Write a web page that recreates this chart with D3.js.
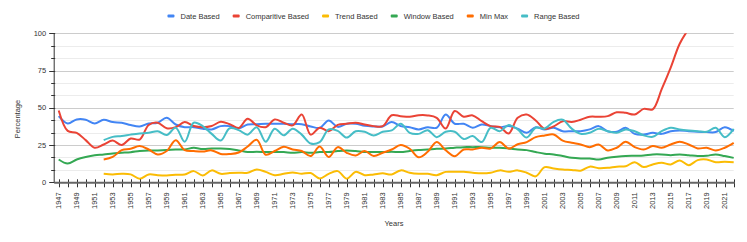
<!DOCTYPE html>
<html>
<head>
<meta charset="utf-8">
<script src="https://cdn.jsdelivr.net/npm/d3@7"></script>
<style>
  html, body { margin: 0; padding: 0; background: #fff; }
  svg { display: block; font-family: Arial, "Liberation Sans", sans-serif; }
</style>
</head>
<body>
<script>
// years on the x axis
const years = [1947, 1948, 1949, 1950, 1951, 1952, 1953, 1954, 1955, 1956, 1957, 1958, 1959,
  1960, 1961, 1962, 1963, 1964, 1965, 1966, 1967, 1968, 1969, 1970, 1971, 1972, 1973, 1974,
  1975, 1976, 1977, 1978, 1979, 1980, 1981, 1982, 1983, 1984, 1985, 1986, 1987, 1988, 1989,
  1990, 1991, 1992, 1993, 1994, 1995, 1996, 1997, 1998, 1999, 2000, 2001, 2002, 2003, 2004,
  2005, 2006, 2007, 2008, 2009, 2010, 2011, 2012, 2013, 2014, 2015, 2016, 2017, 2018, 2019,
  2020, 2021, 2022];

// one value per year, null = no data
const dateBased = [44.4, 39.5, 42.2, 42, 39.5, 42, 40.4, 40, 38.4, 37.5, 39.5, 40, 43.3,
  38.8, 37, 37, 36, 35.5, 37.7, 37.7, 36.3, 38.8, 39, 39.3, 39.3, 39.3, 39, 39,
  37.5, 36.5, 41.5, 37.2, 39.3, 39.3, 37.9, 37.5, 37.5, 40.4, 37.7, 37, 35.5, 37, 36.6,
  45.5, 39.3, 39.3, 36.6, 38.8, 37.7, 37, 37.7, 36, 33.2, 37, 35.5, 36.6, 34.3, 34.3,
  34.3, 35.5, 37.7, 34.3, 33.9, 36.6, 32.5, 32, 33.2, 32.5, 34.3, 34.8, 34.3, 33.9, 33.7,
  33.7, 37, 34.3];

const comparitiveBased = [48.2, 34.5, 33.2, 28.3, 23.2, 25.4, 28, 25, 29.4, 28.7, 38.5, 40, 36.3,
  37, 40.4, 37.8, 37, 37.8, 40.6, 39, 36.5, 42.7, 38.2, 37, 42.2, 40, 38.2, 45.5,
  32, 36.6, 34.3, 38.5, 39.3, 40, 38.8, 37.7, 37.7, 45, 44.4, 44, 45, 44.9, 43.3,
  36.1, 47.8, 44, 44.9, 41, 37.7, 37.2, 32.8, 43.3, 45.5, 41.5, 35.8, 37.5, 41, 40.5,
  42, 44, 44, 44.4, 47, 46.6, 45.5, 49.3, 49, 62.5, 77, 93, 103, null, null,
  null, null, null];

const trendBased = [null, null, null, null, null, 5.7, 5.3, 5.7, 5.3, 2.4, 5.3, 4.8, 4.6,
  5, 5.3, 7.5, 4.6, 8, 5.7, 6.2, 6.4, 6.4, 8.6, 7, 4.8, 5.7, 6.6, 5.7,
  6.2, 2.6, 5.7, 7.5, 2.4, 7, 4.8, 5.3, 6, 5.3, 8, 6.4, 5.7, 5.7, 4.8,
  7, 7, 7, 6.4, 6, 6.4, 8, 7, 8, 6.4, 4, 10.2, 9.3, 8.6, 8.3,
  7.8, 10.5, 9.5, 9.7, 10.5, 10.8, 13.5, 10.2, 12, 13.1, 12, 14.7, 11.5, 14.9, 15.3,
  13.5, 13.8, 13.5];

const windowBased = [15.3, 12.6, 15.3, 17, 18.2, 18.7, 19.4, 19.8, 20.2, 21, 21.4, 21.4, 21.6,
  22, 22, 23.2, 22.3, 22.7, 22.7, 22.3, 21.4, 20.3, 20.5, 20.3, 20.3, 20.3, 19.8, 20.3,
  19.8, 20.3, 20.3, 21, 21.4, 21, 20.3, 20.3, 20.3, 20.5, 20.3, 21, 21.6, 22, 22.5,
  22.7, 23.2, 23.6, 23.6, 23.6, 23.2, 23.2, 22.7, 22, 21.6, 20.3, 19.2, 18.7, 17.6, 16.4,
  16, 16, 15.3, 16.4, 17.1, 17.6, 17.8, 18, 18.7, 18.7, 18.2, 18.7, 18.2, 17.6, 17.8,
  18.7, 17.6, 16.4];

const minMax = [null, null, null, null, null, 15.3, 17, 21.6, 22.5, 24.3, 22, 18.7, 21,
  28.3, 21.6, 21, 20.7, 21.4, 19, 19, 20, 24, 28.5, 18.5, 21, 23.8, 22, 21,
  17.6, 24, 17, 23.6, 19.8, 18, 21, 17.6, 19.8, 22, 25, 22.5, 16.8, 20.5, 27,
  21.5, 17.5, 22, 22, 23.2, 22.7, 27, 22.7, 25.5, 27, 30.3, 31.4, 32.1, 28, 26.5,
  25.4, 23.6, 25.4, 21.4, 23.2, 27.2, 23.6, 22, 24.3, 23.2, 25.4, 27.2, 25.4, 22.7, 23.2,
  21.4, 23.2, 26.5];

const rangeBased = [null, null, null, null, null, 28.3, 30.5, 31, 32, 32.8, 33.2, 34.3, 31.7,
  36.6, 27.2, 40, 37.7, 32.5, 28, 36.3, 35, 32, 37, 27.2, 36, 31.5, 36, 32,
  26, 27, 35.5, 34.5, 30, 34.3, 33.9, 31.4, 33.9, 34.8, 39.3, 33.2, 32.5, 35, 30.3,
  33.9, 33.9, 29, 31, 27, 36.6, 34.3, 38.4, 35.5, 30, 36.6, 36.1, 40.6, 42, 36,
  32.5, 33.2, 35.9, 34.3, 33.2, 35.5, 34.3, 31.5, 30.5, 34.3, 36.6, 35.5, 34.8, 34.3, 33.9,
  36.6, 30.3, 35.9];

const seriesNames = ["Date Based", "Comparitive Based", "Trend Based", "Window Based", "Min Max", "Range Based"];
const seriesValues = [dateBased, comparitiveBased, trendBased, windowBased, minMax, rangeBased];
const seriesColors = ["#4285F4", "#EA4335", "#FBBC04", "#34A853", "#FF6D01", "#46BDC6"];

const yMajorTicks = [0, 25, 50, 75, 100];

const width = 747;
const height = 242;
const plot = { left: 54.2, right: 733.7, top: 33.3, bottom: 182.3 };
const fontSize = 7.5;

const svg = d3.select("body").append("svg")
    .attr("width", width)
    .attr("height", height);

// x: a year every 9px, half a step of room before the first one
const x = d3.scaleLinear()
    .domain([years[0] - 0.5, years[years.length - 1]])
    .range([plot.left, plot.right]);

const y = d3.scaleLinear()
    .domain([0, 100])
    .range([plot.bottom, plot.top]);

// minor lines split each 25 step in three
const minorTicks = d3.range(0, 100, 25 / 3).filter(v => !yMajorTicks.includes(Math.round(v)));

// gridlines
svg.append("g")
  .selectAll("line")
  .data(minorTicks)
  .join("line")
    .attr("x1", plot.left).attr("x2", plot.right)
    .attr("y1", d => Math.round(y(d)) + 0.5).attr("y2", d => Math.round(y(d)) + 0.5)
    .attr("stroke", "#ececec");

svg.append("g")
  .selectAll("line")
  .data(yMajorTicks.filter(d => d > 0))
  .join("line")
    .attr("x1", plot.left).attr("x2", plot.right)
    .attr("y1", d => Math.round(y(d)) + 0.5).attr("y2", d => Math.round(y(d)) + 0.5)
    .attr("stroke", "#cccccc");

// clip so the comparitive line stops at 100
svg.append("defs").append("clipPath")
    .attr("id", "plot-clip")
  .append("rect")
    .attr("x", plot.left)
    .attr("y", plot.top)
    .attr("width", plot.right - plot.left + 2)
    .attr("height", plot.bottom - plot.top + 2);

const line = d3.line()
    .defined(d => d.v != null)
    .x(d => x(d.year))
    .y(d => y(d.v))
    .curve(d3.curveCatmullRom.alpha(0.5));

svg.append("g")
    .attr("clip-path", "url(#plot-clip)")
  .selectAll("path")
  .data(seriesValues)
  .join("path")
    .attr("d", vals => line(years.map((yr, i) => ({ year: yr, v: vals[i] }))))
    .attr("fill", "none")
    .attr("stroke", (d, i) => seriesColors[i])
    .attr("stroke-width", 2)
    .attr("stroke-linejoin", "round");

// y axis
const yAxis = svg.append("g");
yAxis.append("line")
    .attr("x1", plot.left).attr("x2", plot.left)
    .attr("y1", plot.top).attr("y2", plot.bottom)
    .attr("stroke", "#333");
yAxis.selectAll(".minor")
  .data(minorTicks)
  .join("line")
    .attr("class", "minor")
    .attr("x1", plot.left - 3).attr("x2", plot.left + 1)
    .attr("y1", d => Math.round(y(d)) + 0.5).attr("y2", d => Math.round(y(d)) + 0.5)
    .attr("stroke", "#333");
yAxis.selectAll(".major")
  .data(yMajorTicks)
  .join("line")
    .attr("class", "major")
    .attr("x1", plot.left - 5).attr("x2", plot.left + 1)
    .attr("y1", d => Math.round(y(d)) + 0.5).attr("y2", d => Math.round(y(d)) + 0.5)
    .attr("stroke", "#333");
yAxis.selectAll("text")
  .data(yMajorTicks)
  .join("text")
    .attr("x", plot.left - 8)
    .attr("y", d => y(d))
    .attr("dy", "0.35em")
    .attr("text-anchor", "end")
    .attr("font-size", fontSize)
    .attr("fill", "#333")
    .text(d => d);

// x axis: tick every year, label every other year
const xAxis = svg.append("g");
xAxis.selectAll("line.tick")
  .data(years)
  .join("line")
    .attr("class", "tick")
    .attr("x1", d => Math.round(x(d)) + 0.5).attr("x2", d => Math.round(x(d)) + 0.5)
    .attr("y1", plot.bottom - 3).attr("y2", plot.bottom + 5)
    .attr("stroke", "#333");
xAxis.append("line")
    .attr("x1", plot.left).attr("x2", plot.right + 1)
    .attr("y1", plot.bottom + 0.5).attr("y2", plot.bottom + 0.5)
    .attr("stroke", "#666")
    .attr("stroke-width", 2);
xAxis.selectAll("text")
  .data(years.filter((d, i) => i % 2 === 0))
  .join("text")
    .attr("transform", d => `translate(${x(d)},${plot.bottom + 10}) rotate(-90)`)
    .attr("dy", "0.35em")
    .attr("text-anchor", "end")
    .attr("font-size", fontSize)
    .attr("fill", "#333")
    .text(d => d);

// axis titles
svg.append("text")
    .attr("transform", `translate(17,119) rotate(-90)`)
    .attr("text-anchor", "middle")
    .attr("dy", "0.35em")
    .attr("font-size", fontSize)
    .attr("fill", "#333")
    .text("Percentage");

svg.append("text")
    .attr("x", (plot.left + plot.right) / 2)
    .attr("y", 226)
    .attr("text-anchor", "middle")
    .attr("font-size", fontSize)
    .attr("fill", "#333")
    .text("Years");

// legend, centred on the page
const legend = svg.append("g");
const items = legend.selectAll("g")
  .data(seriesNames)
  .join("g");
items.append("rect")
    .attr("width", 7)
    .attr("height", 3)
    .attr("y", -1.5)
    .attr("rx", 1)
    .attr("fill", (d, i) => seriesColors[i]);
items.append("text")
    .attr("x", 13)
    .attr("dy", "0.35em")
    .attr("font-size", fontSize)
    .attr("fill", "#333")
    .text(d => d);

let cursor = 0;
items.each(function() {
  const w = 13 + d3.select(this).select("text").node().getComputedTextLength();
  d3.select(this).attr("transform", `translate(${cursor},0)`);
  cursor += w + 13;
});
const legendWidth = cursor - 13;
legend.attr("transform", `translate(${(width - legendWidth) / 2},16)`);
</script>
</body>
</html>
